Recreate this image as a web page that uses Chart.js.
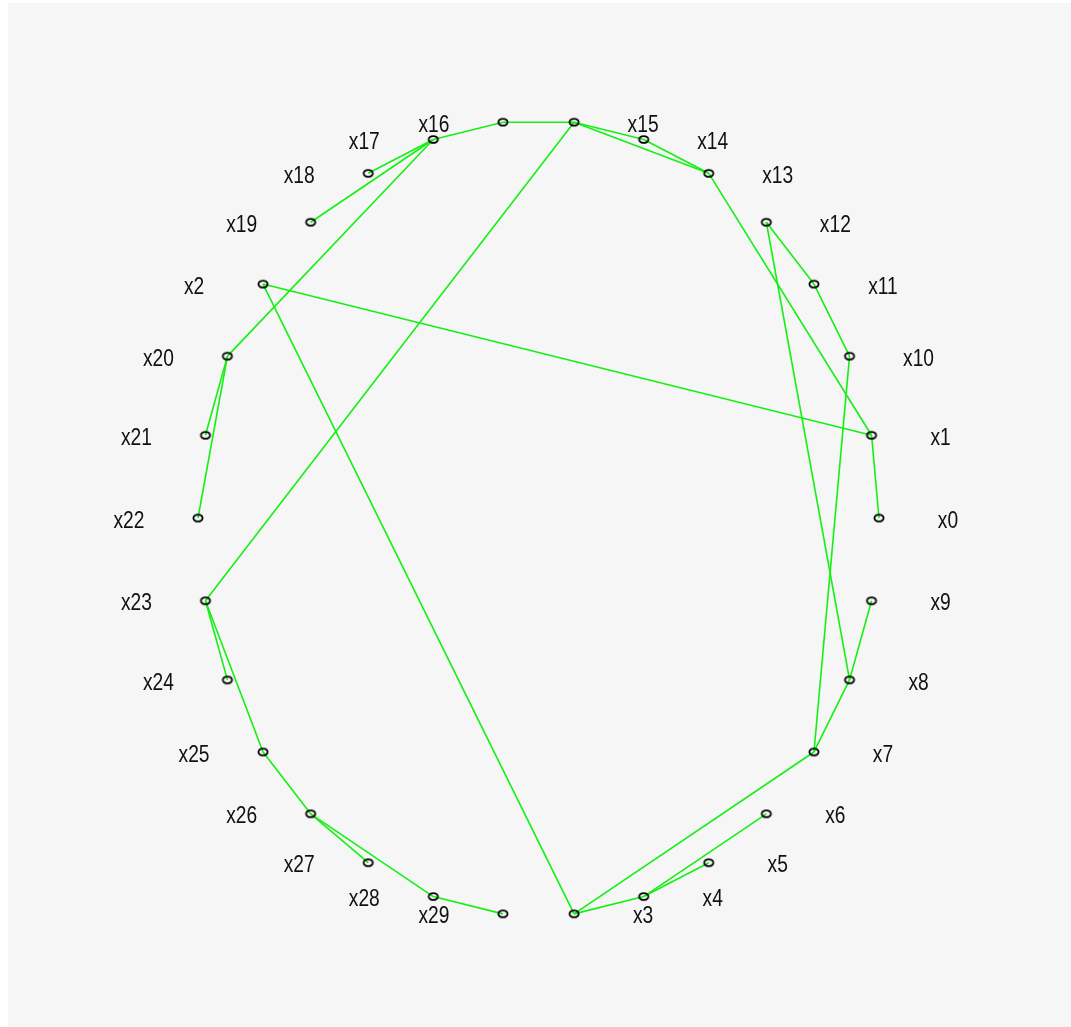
<!DOCTYPE html>
<html>
<head>
<meta charset="utf-8">
<script src="https://cdn.jsdelivr.net/npm/chart.js@4/dist/chart.umd.min.js"></script>
<style>
  html, body { margin: 0; padding: 0; background: #ffffff; }
  #wrap { position: relative; width: 1071px; height: 1027px; }
  canvas { display: block; }
</style>
</head>
<body>
<div id="wrap"><canvas id="c" width="1071" height="1027"></canvas></div>
<script>
// Vertices, in the order they sit around the circle (counter-clockwise from the right).
const nodeNames = [
  "x0", "x1", "x10", "x11", "x12", "x13", "x14", "x15", "x16", "x17",
  "x18", "x19", "x2", "x20", "x21", "x22", "x23", "x24", "x25", "x26",
  "x27", "x28", "x29", "x3", "x4", "x5", "x6", "x7", "x8", "x9"
];

// Edge list: edgeFrom[i] -- edgeTo[i]
const edgeFrom = [
  "x0", "x1", "x2", "x3", "x4", "x4", "x3", "x7", "x8", "x7",
  "x10", "x11", "x12", "x1", "x13", "x14", "x13", "x15", "x16", "x17",
  "x17", "x17", "x20", "x20", "x15", "x23", "x23", "x25", "x26", "x26",
  "x28"
];
const edgeTo = [
  "x1", "x2", "x3", "x4", "x5", "x6", "x7", "x8", "x9", "x10",
  "x11", "x12", "x8", "x13", "x14", "x15", "x15", "x16", "x17", "x18",
  "x19", "x20", "x21", "x22", "x23", "x24", "x25", "x26", "x27", "x28",
  "x29"
];

// Circular layout on the unit circle
const step = 2 * Math.PI / nodeNames.length;
const pos = {};
nodeNames.forEach((n, k) => {
  pos[n] = { x: Math.cos(k * step), y: Math.sin(k * step) };
});

// Open elliptical vertex marker
function makeMarker() {
  const c = document.createElement('canvas');
  c.width = 14; c.height = 11;
  const g = c.getContext('2d');
  g.strokeStyle = '#000';
  g.lineWidth = 1.8;
  g.beginPath();
  g.ellipse(7, 5.5, 4.6, 3.4, 0, 0, 2 * Math.PI);
  g.stroke();
  return c;
}
const marker = makeMarker();

const edgeColor = '#14f014';

const datasets = edgeFrom.map((a, i) => ({
  type: 'scatter',
  data: [pos[a], pos[edgeTo[i]]],
  showLine: true,
  borderColor: edgeColor,
  borderWidth: 1.6,
  pointRadius: 0,
  fill: false,
  order: 2
}));

datasets.push({
  type: 'scatter',
  data: nodeNames.map(n => pos[n]),
  pointStyle: marker,
  pointRadius: 5,
  order: 0
});

// Panel background
const panelPlugin = {
  id: 'panel',
  beforeDraw(chart) {
    const ctx = chart.ctx;
    ctx.save();
    ctx.fillStyle = '#ffffff';
    ctx.fillRect(0, 0, chart.width, chart.height);
    ctx.fillStyle = '#f6f6f6';
    ctx.fillRect(8, 3, chart.width - 8, chart.height - 3);
    ctx.restore();
  }
};

// Vertex names, placed outward beside each vertex
const labelPlugin = {
  id: 'vertexLabels',
  afterDatasetsDraw(chart) {
    const ctx = chart.ctx;
    const xs = chart.scales.x, ys = chart.scales.y;
    const cx = xs.getPixelForValue(0);
    ctx.save();
    ctx.fillStyle = '#111111';
    ctx.font = '24px "Liberation Sans", Arial, sans-serif';
    ctx.textAlign = 'center';
    ctx.textBaseline = 'middle';
    nodeNames.forEach(n => {
      const px = xs.getPixelForValue(pos[n].x);
      const py = ys.getPixelForValue(pos[n].y);
      const lx = px + (px >= cx ? 69 : -69);
      const ly = py + 3;
      ctx.save();
      ctx.translate(lx, ly);
      ctx.scale(0.8, 1);
      ctx.fillText(n, 0, 0);
      ctx.restore();
    });
    ctx.restore();
  }
};

new Chart(document.getElementById('c'), {
  type: 'scatter',
  data: { datasets },
  options: {
    responsive: false,
    animation: false,
    events: [],
    layout: { padding: 0, autoPadding: false },
    plugins: { legend: { display: false }, tooltip: { enabled: false } },
    scales: {
      x: { type: 'linear', display: false, min: -1.5815, max: 1.5639 },
      y: { type: 'linear', display: false, min: -1.2788, max: 1.3015 }
    }
  },
  plugins: [panelPlugin, labelPlugin]
});
</script>
</body>
</html>
